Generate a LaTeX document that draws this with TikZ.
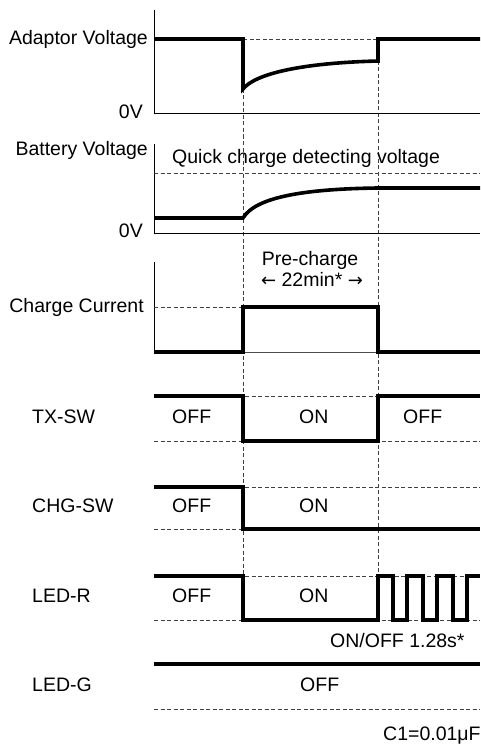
\documentclass[tikz,border=0pt]{standalone}
\usepackage{fontspec}
\setmainfont{Liberation Sans}
\newfontfamily\arrowfont{DejaVu Sans}
\begin{document}
\begin{tikzpicture}[x=1pt,y=-1pt,
  wave/.style={line width=3.6pt, line join=miter},
  axisline/.style={line width=1pt},
  guide/.style={line width=0.9pt, black!75, dash pattern=on 4pt off 2.5pt},
  lbl/.style={font=\fontsize{19.5}{23}\selectfont, inner sep=0pt}]
\useasboundingbox (0,0) rectangle (480,749);
% vertical guides
\draw[guide] (243,89) -- (243,576);
\draw[guide] (378,61) -- (378,576);
% ---------- Adaptor voltage
\draw[axisline] (154,10) -- (154,114) -- (480,114);
\draw[guide] (243,39) -- (378,39);
\draw[wave] (154,39) -- (243,39) -- (243,89) .. controls (255,74) and (300,63) .. (378,61) -- (378,39) -- (480,39);
\node[lbl, anchor=base east] (adv) at (148,45) {Adaptor Voltage};
\node[lbl, anchor=base east] (z1) at (143,118) {0V};
% ---------- Battery voltage
\draw[axisline] (154,144) -- (154,233) -- (480,233);
\draw[guide] (154,173) -- (480,173);
\draw[wave] (154,218) -- (243,218) .. controls (255,198) and (300,189) .. (378,188) -- (480,188);
\node[lbl, anchor=base east] (bv) at (148,155) {Battery Voltage};
\node[lbl, anchor=base east] (z2) at (143,237) {0V};
\node[lbl, anchor=base west] (qc) at (172,163) {Quick charge detecting voltage};
% ---------- Charge current
\draw[axisline] (154,262) -- (154,352);
\draw[line width=0.8pt, black!70] (243,352) -- (378,352);
\draw[guide] (154,307) -- (243,307);
\draw[wave] (154,352) -- (243,352) -- (243,307) -- (378,307) -- (378,352) -- (480,352);
\node[lbl, anchor=base east] (cc) at (144,312) {Charge Current};
\node[lbl, anchor=base] (pc) at (310,265) {Pre-charge};
\node[lbl, anchor=base] (tm) at (312,286) {{\arrowfont\fontsize{18}{22}\selectfont ←} 22min* {\arrowfont\fontsize{18}{22}\selectfont →}};
% ---------- TX-SW
\draw[guide] (154,396) -- (480,396);
\draw[guide] (154,441) -- (480,441);
\draw[wave] (154,396) -- (243,396) -- (243,441) -- (378,441) -- (378,396) -- (480,396);
\node[lbl, anchor=base west] (tx) at (32,423) {TX-SW};
\node[lbl, anchor=base west] (tx1) at (172,423) {OFF};
\node[lbl, anchor=base west] (tx2) at (299,423) {ON};
\node[lbl, anchor=base west] (tx3) at (403,423) {OFF};
% ---------- CHG-SW
\draw[guide] (154,487) -- (480,487);
\draw[guide] (154,529) -- (480,529);
\draw[wave] (154,487) -- (243,487) -- (243,529) -- (480,529);
\node[lbl, anchor=base west] (cs) at (32,512) {CHG-SW};
\node[lbl, anchor=base west] (cs1) at (172,512) {OFF};
\node[lbl, anchor=base west] (cs2) at (299,512) {ON};
% ---------- LED-R
\draw[guide] (154,576) -- (480,576);
\draw[guide] (154,620) -- (480,620);
\draw[wave] (154,576) -- (243,576) -- (243,620) -- (378,620) -- (378,576) -- (393,576) -- (393,620)
  -- (407,620) -- (407,576) -- (423,576) -- (423,620) -- (437,620) -- (437,576) -- (453,576)
  -- (453,620) -- (467,620) -- (467,576) -- (480,576);
\node[lbl, anchor=base west] (lr) at (32,602) {LED-R};
\node[lbl, anchor=base west] (lr1) at (172,602) {OFF};
\node[lbl, anchor=base west] (lr2) at (299,602) {ON};
\node[lbl, anchor=base west] (oo) at (330,647) {ON/OFF 1.28s*};
% ---------- LED-G
\draw[guide] (154,709) -- (480,709);
\draw[wave] (154,664) -- (480,664);
\node[lbl, anchor=base west] (lg) at (32,691) {LED-G};
\node[lbl, anchor=base west] (lg1) at (300,691) {OFF};
\node[lbl, anchor=base west] (c1) at (383,740) {C1=0.01μF};
\end{tikzpicture}
\end{document}
